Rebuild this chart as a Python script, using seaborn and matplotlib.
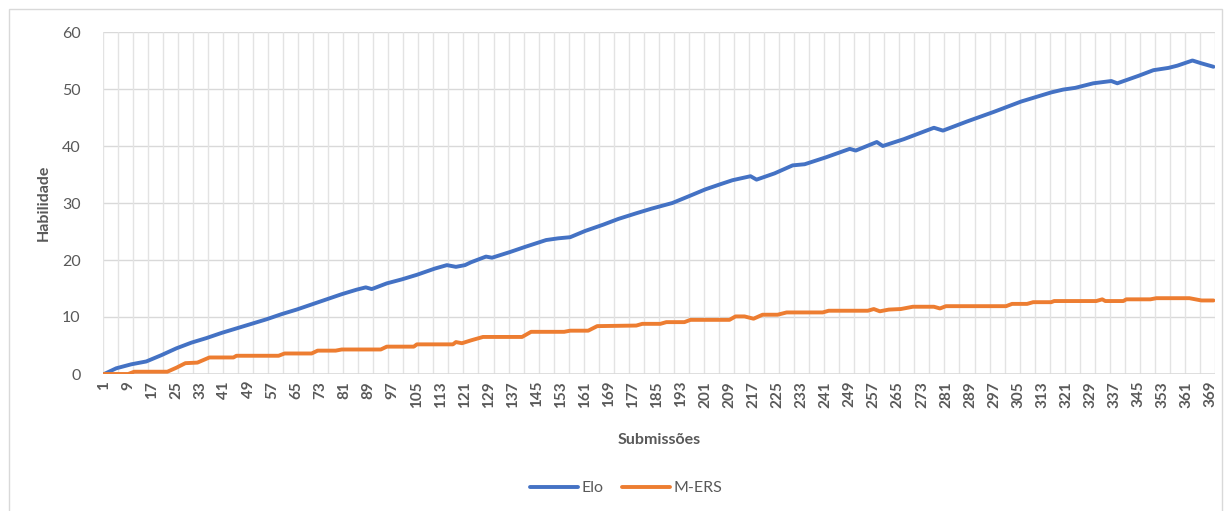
import matplotlib
matplotlib.use("Agg")
import matplotlib.pyplot as plt
from matplotlib.patches import Rectangle
from matplotlib.lines import Line2D
import numpy as np
import pandas as pd
import seaborn as sns

# Skill curves (submission number, skill value)
elo_sub = [1, 5, 10, 15, 20, 25, 30, 35, 40, 45, 50, 55, 60, 65, 70, 75, 80, 85, 88, 90,
           95, 100, 105, 111, 115, 118, 121, 123, 128, 130, 136, 141, 148, 152, 156, 161,
           167, 172, 178, 183, 190, 196, 201, 206, 210, 216, 218, 224, 230, 234, 241, 249,
           251, 258, 260, 267, 272, 277, 280, 288, 297, 306, 316, 320, 324, 330, 336, 338,
           345, 350, 355, 358, 363, 366, 370]
elo_val = [0.0, 1.0, 1.7, 2.2, 3.3, 4.5, 5.5, 6.3, 7.2, 8.0, 8.8, 9.6, 10.5, 11.3, 12.2,
           13.1, 14.0, 14.8, 15.2, 14.9, 15.9, 16.6, 17.4, 18.5, 19.1, 18.8, 19.1, 19.6,
           20.6, 20.4, 21.4, 22.3, 23.5, 23.8, 24.0, 25.1, 26.2, 27.2, 28.2, 29.0, 30.0,
           31.3, 32.4, 33.3, 34.0, 34.7, 34.1, 35.2, 36.6, 36.8, 38.0, 39.5, 39.2, 40.7,
           40.0, 41.2, 42.2, 43.2, 42.7, 44.3, 46.0, 47.8, 49.4, 49.9, 50.2, 51.0, 51.4,
           51.0, 52.3, 53.3, 53.7, 54.1, 55.0, 54.5, 53.9]

mers_sub = [1, 9, 11, 22, 25, 28, 32, 36, 44, 45, 59, 61, 70, 72, 78, 80, 93, 95, 104,
            105, 117, 118, 120, 123, 127, 140, 143, 154, 156, 162, 165, 178, 180, 186,
            188, 194, 196, 209, 211, 214, 217, 220, 225, 228, 240, 242, 255, 257, 259,
            262, 266, 270, 277, 279, 281, 301, 303, 308, 310, 316, 317, 331, 333, 334,
            340, 341, 349, 351, 362, 364, 366, 370]
mers_val = [0.0, 0.0, 0.4, 0.4, 1.1, 1.9, 2.0, 2.9, 2.9, 3.2, 3.2, 3.6, 3.6, 4.1, 4.1,
            4.3, 4.3, 4.8, 4.8, 5.2, 5.2, 5.6, 5.4, 5.9, 6.5, 6.5, 7.4, 7.4, 7.6, 7.6,
            8.4, 8.5, 8.8, 8.8, 9.1, 9.1, 9.5, 9.5, 10.1, 10.1, 9.7, 10.4, 10.4, 10.8,
            10.8, 11.1, 11.1, 11.4, 11.0, 11.3, 11.4, 11.8, 11.8, 11.5, 11.9, 11.9, 12.3,
            12.3, 12.6, 12.6, 12.8, 12.8, 13.1, 12.8, 12.8, 13.1, 13.1, 13.3, 13.3, 13.1,
            12.9, 12.9]

series_names = ["Elo", "M-ERS"]
series_colors = ["#4472C4", "#ED7D31"]
n_submissions = 370
tick_labels = list(range(1, n_submissions + 1, 8))
y_ticks = [0, 10, 20, 30, 40, 50, 60]

sns.set_theme(style="white")
plt.rcParams["font.family"] = ["Lato", "DejaVu Sans"]

text_gray = "#595959"
grid_gray = "#D9D9D9"

fig = plt.figure(figsize=(12.25, 5.11), dpi=100)
ax = fig.add_axes([102.7 / 1225, 1 - 374 / 511, (1215 - 102.7) / 1225, (374 - 32) / 511])

# chart border
fig.patches.append(Rectangle((9 / 1225, -0.05), (1222 - 9) / 1225, 1 - 9 / 511 + 0.05,
                             transform=fig.transFigure, fill=False,
                             edgecolor="#D9D9D9", linewidth=1.0))

df = pd.concat([
    pd.DataFrame({"Submissão": elo_sub, "Habilidade": elo_val, "Série": series_names[0]}),
    pd.DataFrame({"Submissão": mers_sub, "Habilidade": mers_val, "Série": series_names[1]}),
])

sns.lineplot(data=df, x="Submissão", y="Habilidade", hue="Série",
             palette=dict(zip(series_names, series_colors)), linewidth=2.8,
             legend=False, ax=ax, zorder=3, estimator=None)

ax.set_xlim(0.5, n_submissions + 0.5)
ax.set_ylim(0, 60)

# gridlines: horizontal at value ticks, vertical every 5 categories
for v in y_ticks[1:]:
    ax.axhline(v, color=grid_gray, linewidth=1.0, zorder=1)
for b in np.arange(0.5, n_submissions + 1, 5):
    ax.axvline(b, color="#E3E3E3", linewidth=1.0, zorder=1)
ax.axhline(0, color=grid_gray, linewidth=1.2, zorder=2)

for s in ax.spines.values():
    s.set_visible(False)

ax.set_yticks(y_ticks)
ax.set_yticklabels([str(v) for v in y_ticks], fontsize=11.5, color=text_gray)
ax.set_xticks(tick_labels)
ax.set_xticklabels([str(t) for t in tick_labels], rotation=90, fontsize=11,
                   fontweight="bold", color=text_gray)
ax.tick_params(axis="y", length=0, pad=16)
ax.tick_params(axis="x", length=0, pad=5)

ax.set_xlabel("Submissões", fontsize=11.5, fontweight="bold", color=text_gray, labelpad=18)
ax.set_ylabel("Habilidade", fontsize=11.5, fontweight="bold", color=text_gray, labelpad=8)

handles = [Line2D([0], [0], color=c, linewidth=2.8) for c in series_colors]
fig.legend(handles, series_names, loc="center", bbox_to_anchor=(626 / 1225, 1 - 488 / 511),
           ncol=2, frameon=False, fontsize=11.5, labelcolor=text_gray,
           handlelength=3.0, handletextpad=0.2, columnspacing=1.2)

fig.savefig("out.png", dpi=100)
